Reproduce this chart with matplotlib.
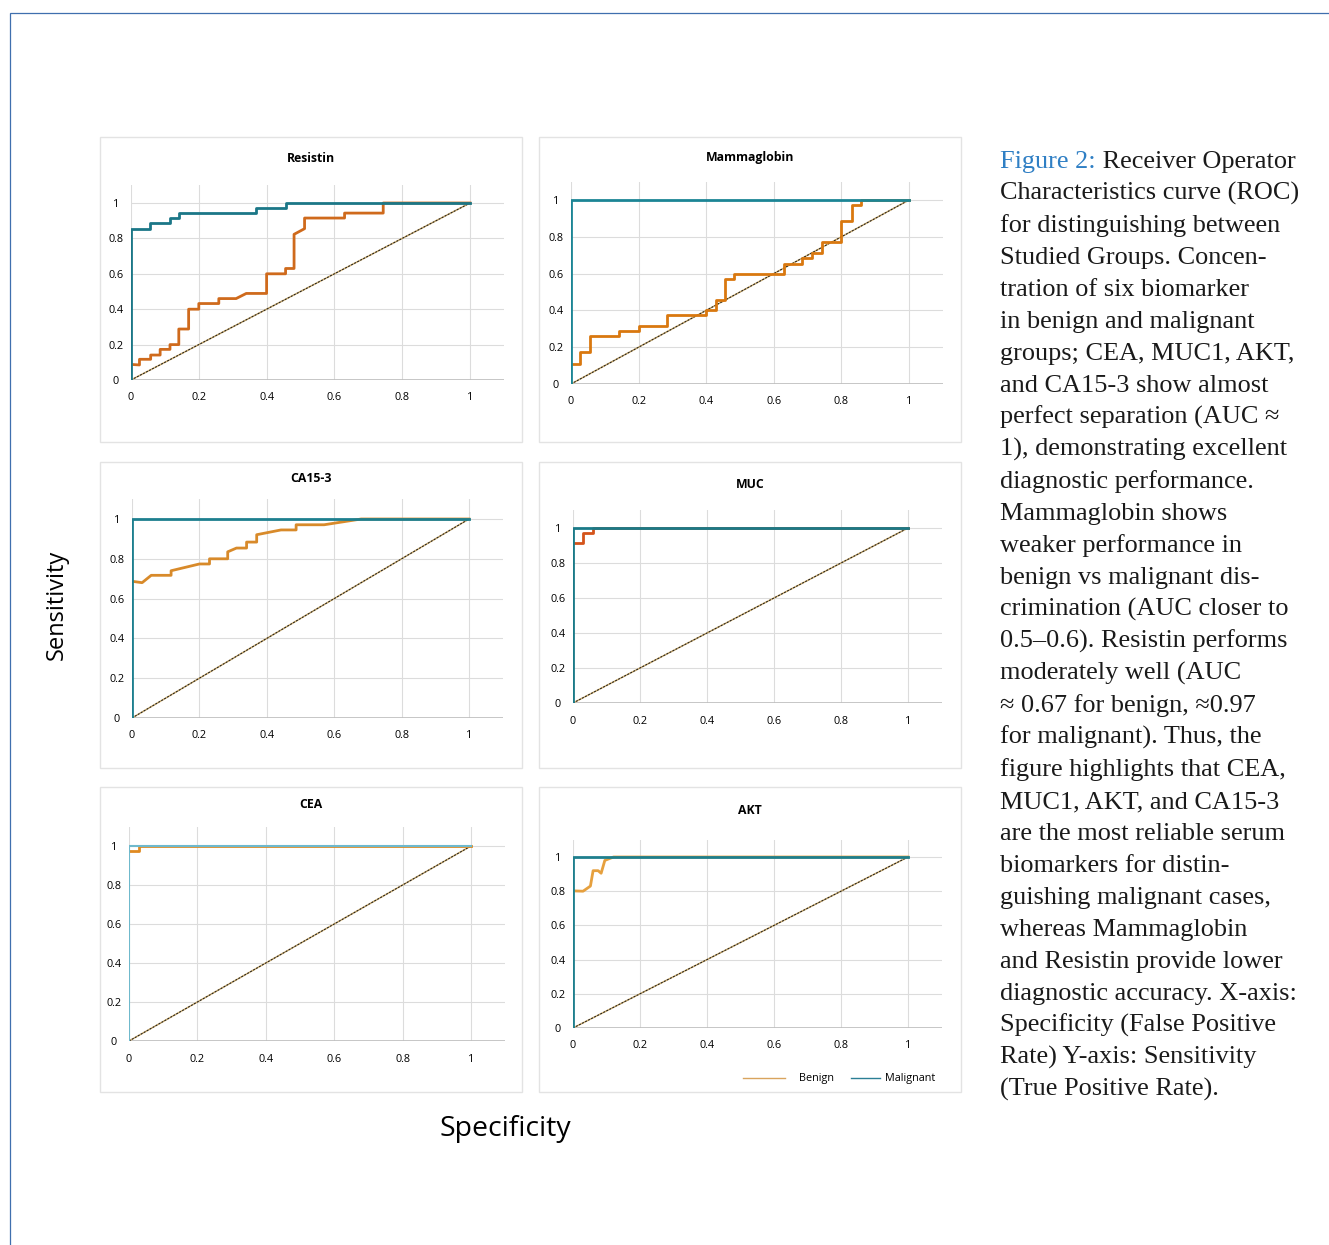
import matplotlib
matplotlib.use("Agg")
import matplotlib.pyplot as plt
from matplotlib.patches import Rectangle
from matplotlib.text import Annotation

W, H = 1329, 1245

# ---- data (ROC vertices: x = 1-specificity, y = sensitivity)
markers = ["Resistin", "Mammaglobin", "CA15-3", "MUC", "CEA", "AKT"]

resistin_mal_x = [0, 0, 0.056, 0.056, 0.115, 0.115, 0.143, 0.143, 0.37, 0.37, 0.458, 0.458, 1.0]
resistin_mal_y = [0, 0.855, 0.855, 0.887, 0.887, 0.915, 0.915, 0.945, 0.945, 0.97, 0.97, 1.0, 1.0]
resistin_ben_x = [0, 0.025, 0.025, 0.058, 0.058, 0.086, 0.086, 0.115, 0.115, 0.141, 0.141, 0.17, 0.17,
                  0.2, 0.2, 0.259, 0.259, 0.31, 0.34, 0.4, 0.4, 0.456, 0.456, 0.481, 0.481, 0.512,
                  0.512, 0.63, 0.63, 0.744, 0.744, 1.0]
resistin_ben_y = [0.088, 0.085, 0.117, 0.117, 0.141, 0.141, 0.173, 0.173, 0.2, 0.2, 0.288, 0.288, 0.40,
                  0.40, 0.432, 0.432, 0.46, 0.46, 0.489, 0.489, 0.60, 0.60, 0.63, 0.63, 0.823, 0.855,
                  0.915, 0.915, 0.943, 0.943, 1.0, 1.0]

mammaglobin_mal_x = [0, 0, 1.0]
mammaglobin_mal_y = [0, 1.0, 1.0]
mammaglobin_ben_x = [0, 0.027, 0.027, 0.055, 0.055, 0.141, 0.141, 0.2, 0.2, 0.285, 0.285, 0.399, 0.399,
                     0.429, 0.429, 0.455, 0.455, 0.482, 0.482, 0.63, 0.63, 0.684, 0.684, 0.714, 0.714,
                     0.744, 0.744, 0.8, 0.8, 0.83, 0.83, 0.859, 0.859, 1.0]
mammaglobin_ben_y = [0.11, 0.11, 0.172, 0.172, 0.259, 0.259, 0.286, 0.286, 0.313, 0.313, 0.373, 0.373, 0.403,
                     0.403, 0.457, 0.457, 0.57, 0.57, 0.60, 0.60, 0.653, 0.653, 0.683, 0.683, 0.714,
                     0.714, 0.772, 0.772, 0.886, 0.886, 0.973, 0.973, 1.0, 1.0]

ca153_mal_x = [0, 0, 1.0]
ca153_mal_y = [0, 1.0, 1.0]
ca153_ben_x = [0, 0.03, 0.057, 0.116, 0.116, 0.2, 0.23, 0.23, 0.284, 0.284, 0.31, 0.34, 0.34, 0.37, 0.37,
               0.442, 0.487, 0.487, 0.57, 0.68, 1.0]
ca153_ben_y = [0.687, 0.68, 0.717, 0.717, 0.74, 0.774, 0.774, 0.80, 0.80, 0.835, 0.854, 0.854, 0.884, 0.884,
               0.921, 0.945, 0.945, 0.971, 0.971, 1.0, 1.0]

muc_mal_x = [0, 0, 1.0]
muc_mal_y = [0, 1.0, 1.0]
muc_ben_x = [0, 0.031, 0.031, 0.06, 0.06, 1.0]
muc_ben_y = [0.912, 0.912, 0.971, 0.971, 1.0, 1.0]

cea_mal_x = [0, 0, 1.0]
cea_mal_y = [0, 1.0, 1.0]
cea_ben_x = [0, 0.029, 0.029, 1.0]
cea_ben_y = [0.973, 0.973, 1.0, 1.0]

akt_mal_x = [0, 0, 1.0]
akt_mal_y = [0, 1.0, 1.0]
akt_ben_x = [0, 0.03, 0.052, 0.06, 0.075, 0.084, 0.095, 0.121, 1.0]
akt_ben_y = [0.802, 0.80, 0.83, 0.92, 0.92, 0.905, 0.98, 1.0, 1.0]

ticks = [0, 0.2, 0.4, 0.6, 0.8, 1]
tick_labels = ["0", "0.2", "0.4", "0.6", "0.8", "1"]

malignant = [(resistin_mal_x, resistin_mal_y), (mammaglobin_mal_x, mammaglobin_mal_y),
             (ca153_mal_x, ca153_mal_y), (muc_mal_x, muc_mal_y),
             (cea_mal_x, cea_mal_y), (akt_mal_x, akt_mal_y)]
benign = [(resistin_ben_x, resistin_ben_y), (mammaglobin_ben_x, mammaglobin_ben_y),
          (ca153_ben_x, ca153_ben_y), (muc_ben_x, muc_ben_y),
          (cea_ben_x, cea_ben_y), (akt_ben_x, akt_ben_y)]

caption = [
    "Receiver Operator",
    "Characteristics curve (ROC)",
    "for distinguishing between",
    "Studied Groups. Concen-",
    "tration of six biomarker",
    "in benign and malignant",
    "groups; CEA, MUC1, AKT,",
    "and CA15-3 show almost",
    "perfect separation (AUC \u2248",
    "1), demonstrating excellent",
    "diagnostic performance.",
    "Mammaglobin shows",
    "weaker performance in",
    "benign vs malignant dis-",
    "crimination (AUC closer to",
    "0.5\u20130.6). Resistin performs",
    "moderately well (AUC",
    "\u2248 0.67 for benign, \u22480.97",
    "for malignant). Thus, the",
    "figure highlights that CEA,",
    "MUC1, AKT, and CA15-3",
    "are the most reliable serum",
    "biomarkers for distin-",
    "guishing malignant cases,",
    "whereas Mammaglobin",
    "and Resistin provide lower",
    "diagnostic accuracy. X-axis:",
    "Specificity (False Positive",
    "Rate) Y-axis: Sensitivity",
    "(True Positive Rate).",
]

# ---- layout (pixels): axis origin x, y, pixels per unit x, y
geom = [(131, 380, 339, 177), (571, 384, 338, 184),
        (132, 718, 337, 199), (573, 703, 335, 175),
        (129, 1041, 342, 195), (573, 1028, 335, 171)]
frames = [(100, 137, 522, 442), (539, 137, 961, 442),
          (100, 462, 522, 768), (539, 462, 961, 768),
          (100, 787, 522, 1092), (539, 787, 961, 1092)]
title_pos = [(311, 158), (750, 157), (311, 479), (750, 484), (311, 805), (750, 811)]
mal_col = ["#1b7787", "#1c8595", "#1d7f8f", "#1a7a88", "#6fb9cc", "#1e7f8d"]
ben_col = ["#cf6a1c", "#d9780f", "#d88a2a", "#d4531a", "#e08a20", "#e6a03e"]

fig = plt.figure(figsize=(W / 100, H / 100), dpi=100)
FONT = ["Open Sans", "DejaVu Sans"]
SERIF = ["Liberation Serif", "DejaVu Serif"]


def fx(x):
    return x / W


def fy(y):
    return 1 - y / H


# page border
fig.patches.append(Rectangle((fx(10), fy(1250)), fx(1400), fy(13) - fy(1250), transform=fig.transFigure,
                             fill=False, edgecolor="#3f6fae", lw=0.9))

for i, name in enumerate(markers):
    l, t, r, b = frames[i]
    fig.patches.append(Rectangle((fx(l), fy(b)), fx(r - l), (b - t) / H, transform=fig.transFigure,
                                 fill=False, edgecolor="#e3e3e3", lw=1.0))
    x0, y0, ux, uy = geom[i]
    ax = fig.add_axes([fx(x0), fy(y0), 1.1 * ux / W, 1.1 * uy / H])
    ax.set_xlim(0, 1.1)
    ax.set_ylim(0, 1.1)
    for s in ax.spines.values():
        s.set_visible(False)
    ax.set_xticks(ticks)
    ax.set_yticks(ticks)
    ax.set_xticklabels(tick_labels, fontsize=7.8, family=FONT)
    ax.set_yticklabels(tick_labels, fontsize=7.8, family=FONT)
    ax.tick_params(axis="y", length=0, pad=11)
    ax.tick_params(axis="x", length=0, pad=9)
    for lbl in ax.get_yticklabels():
        lbl.set_ha("center")
    ax.grid(True, color="#dcdcdc", lw=0.8)
    ax.axhline(0, color="#bdbdbd", lw=1.2, zorder=1)
    ax.set_axisbelow(True)
    # reference diagonal
    ax.plot([0, 1], [0, 1], color="#c8a86a", lw=1.1, zorder=2)
    ax.plot([0, 1], [0, 1], color="#1a1a1a", lw=0.7, ls=(0, (2, 1.5)), zorder=2)
    bx, by = benign[i]
    ax.plot(bx, by, color=ben_col[i], lw=2.0, zorder=3, solid_joinstyle="round")
    mx, my = malignant[i]
    ax.plot(mx, my, color=mal_col[i], lw=2.0 if i != 4 else 1.5, zorder=4)
    tx, ty = title_pos[i]
    fig.text(fx(tx), fy(ty), name, ha="center", va="center", fontsize=8.8, fontweight="bold", family=FONT)

# legend under AKT
fig.add_artist(plt.Line2D([fx(743), fx(785)], [fy(1078), fy(1078)], color="#d9a45e", lw=1.0))
fig.text(fx(799), fy(1078), "Benign", ha="left", va="center", fontsize=7.8, family=FONT)
fig.add_artist(plt.Line2D([fx(851), fx(880)], [fy(1078), fy(1078)], color="#2b7f95", lw=1.0))
fig.text(fx(885), fy(1078), "Malignant", ha="left", va="center", fontsize=7.8, family=FONT)

fig.text(fx(57), fy(605), "Sensitivity", rotation=90, ha="center", va="center", fontsize=17, family=FONT)
fig.text(fx(505), fy(1129), "Specificity", ha="center", va="center", fontsize=20.5, family=FONT)

# caption
first = fig.text(fx(1000), fy(168), "Figure 2:", ha="left", va="baseline", fontsize=18.9,
                 family=SERIF, color="#2f7fc4")
fig.add_artist(Annotation(" " + caption[0], xy=(1, 0), xycoords=first, ha="left", va="bottom",
                          fontsize=18.9, family=SERIF, color="#1a1a1a"))
for k, line in enumerate(caption[1:], start=1):
    fig.text(fx(1000), fy(168 + 32 * k), line, ha="left", va="baseline", fontsize=18.9,
             family=SERIF, color="#1a1a1a")

fig.savefig("out.png", dpi=100, facecolor="white")
